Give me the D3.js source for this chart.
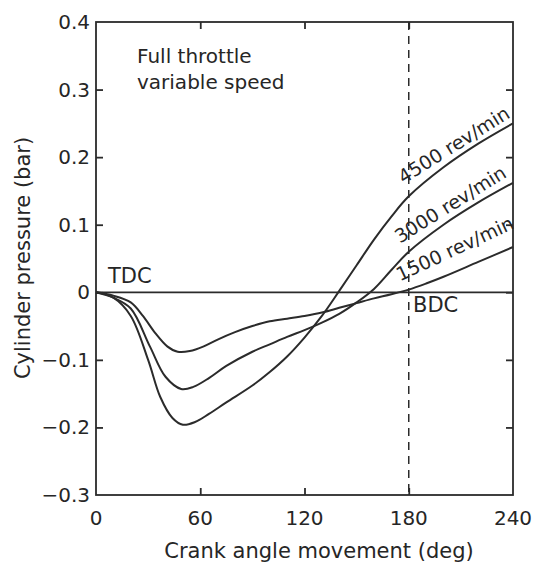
<!DOCTYPE html>
<html>
<head>
<meta charset="utf-8">
<script src="https://cdn.jsdelivr.net/npm/d3@7"></script>
<style>
  body { margin: 0; background: #fff; }
  svg { display: block; }
  text { font-family: "DejaVu Sans", sans-serif; fill: #262626; }
</style>
</head>
<body>
<svg id="chart" width="535" height="565"></svg>
<script>
// crank angle (deg) vs cylinder pressure (bar)
var angle4500 = [0, 10, 20, 30, 37, 44, 50, 57, 65, 75, 90, 100, 110, 120, 130, 140, 150, 160, 170, 180, 200, 220, 240];
var press4500 = [0, -0.008, -0.035, -0.1, -0.155, -0.186, -0.196, -0.192, -0.18, -0.163, -0.138, -0.118, -0.095, -0.067, -0.035, 0.002, 0.04, 0.078, 0.112, 0.142, 0.185, 0.22, 0.25];

var angle3000 = [0, 10, 20, 31, 40, 49, 56, 65, 75, 90, 100, 110, 120, 130, 140, 150, 160, 170, 180, 200, 220, 240];
var press3000 = [0, -0.008, -0.024, -0.08, -0.125, -0.143, -0.14, -0.127, -0.109, -0.088, -0.077, -0.066, -0.056, -0.045, -0.032, -0.015, 0.005, 0.033, 0.06, 0.1, 0.133, 0.162];

var angle1500 = [0, 10, 20, 27, 34, 41, 47, 54, 62, 70, 80, 90, 100, 110, 120, 130, 140, 150, 160, 170, 180, 190, 200, 220, 240];
var press1500 = [0, -0.005, -0.015, -0.035, -0.06, -0.08, -0.088, -0.087, -0.08, -0.07, -0.059, -0.05, -0.043, -0.039, -0.035, -0.03, -0.023, -0.016, -0.009, -0.003, 0.004, 0.013, 0.023, 0.045, 0.067];

var speedLabels = ["4500 rev/min", "3000 rev/min", "1500 rev/min"];
var xTicks = [0, 60, 120, 180, 240];
var yTicks = [0.4, 0.3, 0.2, 0.1, 0, -0.1, -0.2, -0.3];

var x = d3.scaleLinear().domain([0, 240]).range([96, 513]);
var y = d3.scaleLinear().domain([-0.3, 0.4]).range([495, 22]);

var svg = d3.select("#chart");
var ink = "#2b2b2b";

var series = [
    {angle: angle4500, p: press4500, label: speedLabels[0], at: [177, 0.16], rot: -32},
    {angle: angle3000, p: press3000, label: speedLabels[1], at: [175, 0.072], rot: -32},
    {angle: angle1500, p: press1500, label: speedLabels[2], at: [175, 0.016], rot: -25}
];

// frame
svg.append("rect")
    .attr("x", x(0)).attr("y", y(0.4))
    .attr("width", x(240) - x(0)).attr("height", y(-0.3) - y(0.4))
    .attr("fill", "none").attr("stroke", ink).attr("stroke-width", 1.8);

// inward ticks on all four sides
var inner = xTicks.slice(1, -1);
svg.append("g").attr("transform", "translate(0," + y(-0.3) + ")")
    .call(d3.axisTop(x).tickValues(inner).tickSize(7).tickFormat(""))
    .call(g => g.select(".domain").remove());
svg.append("g").attr("transform", "translate(0," + y(0.4) + ")")
    .call(d3.axisBottom(x).tickValues(inner).tickSize(7).tickFormat(""))
    .call(g => g.select(".domain").remove());
var innerY = yTicks.slice(1, -1);
svg.append("g").attr("transform", "translate(" + x(0) + ",0)")
    .call(d3.axisRight(y).tickValues(innerY).tickSize(7).tickFormat(""))
    .call(g => g.select(".domain").remove());
svg.append("g").attr("transform", "translate(" + x(240) + ",0)")
    .call(d3.axisLeft(y).tickValues(innerY).tickSize(7).tickFormat(""))
    .call(g => g.select(".domain").remove());
svg.selectAll(".tick line").attr("stroke", ink).attr("stroke-width", 1.8);

// tick labels
svg.append("g").selectAll("text")
    .data(xTicks)
    .join("text")
    .attr("x", d => x(d))
    .attr("y", 525)
    .attr("text-anchor", "middle")
    .attr("font-size", 20)
    .text(d => d);

svg.append("g").selectAll("text")
    .data(yTicks)
    .join("text")
    .attr("x", 90)
    .attr("y", d => y(d) + 7)
    .attr("text-anchor", "end")
    .attr("font-size", 20)
    .text(d => d < 0 ? "\u2212" + Math.abs(d) : d);

// axis titles
svg.append("text")
    .attr("x", 319).attr("y", 558)
    .attr("text-anchor", "middle")
    .attr("font-size", 21)
    .text("Crank angle movement (deg)");

svg.append("text")
    .attr("transform", "translate(30,258) rotate(-90)")
    .attr("text-anchor", "middle")
    .attr("font-size", 21)
    .text("Cylinder pressure (bar)");

// zero line and BDC marker
svg.append("line")
    .attr("x1", x(0)).attr("x2", x(240))
    .attr("y1", y(0)).attr("y2", y(0))
    .attr("stroke", ink).attr("stroke-width", 1.8);

svg.append("line")
    .attr("x1", x(180)).attr("x2", x(180))
    .attr("y1", y(0.4)).attr("y2", y(-0.3))
    .attr("stroke", ink).attr("stroke-width", 1.5)
    .attr("stroke-dasharray", "8,6");

// curves
var line = d3.line()
    .x(d => x(d[0]))
    .y(d => y(d[1]))
    .curve(d3.curveCatmullRom.alpha(0.5));

svg.append("g").selectAll("path")
    .data(series)
    .join("path")
    .attr("fill", "none")
    .attr("stroke", ink)
    .attr("stroke-width", 2)
    .attr("d", d => line(d.angle.map((a, i) => [a, d.p[i]])));

svg.append("g").selectAll("text")
    .data(series)
    .join("text")
    .attr("transform", d => "translate(" + x(d.at[0]) + "," + y(d.at[1]) + ") rotate(" + d.rot + ")")
    .attr("font-size", 19)
    .text(d => d.label);

// annotations
svg.append("text").attr("x", 108).attr("y", 283).attr("font-size", 21).text("TDC");
svg.append("text").attr("x", 413).attr("y", 312).attr("font-size", 21).text("BDC");

svg.append("text").attr("x", 137).attr("y", 63).attr("font-size", 20).text("Full throttle");
svg.append("text").attr("x", 137).attr("y", 89).attr("font-size", 20).text("variable speed");
</script>
</body>
</html>
